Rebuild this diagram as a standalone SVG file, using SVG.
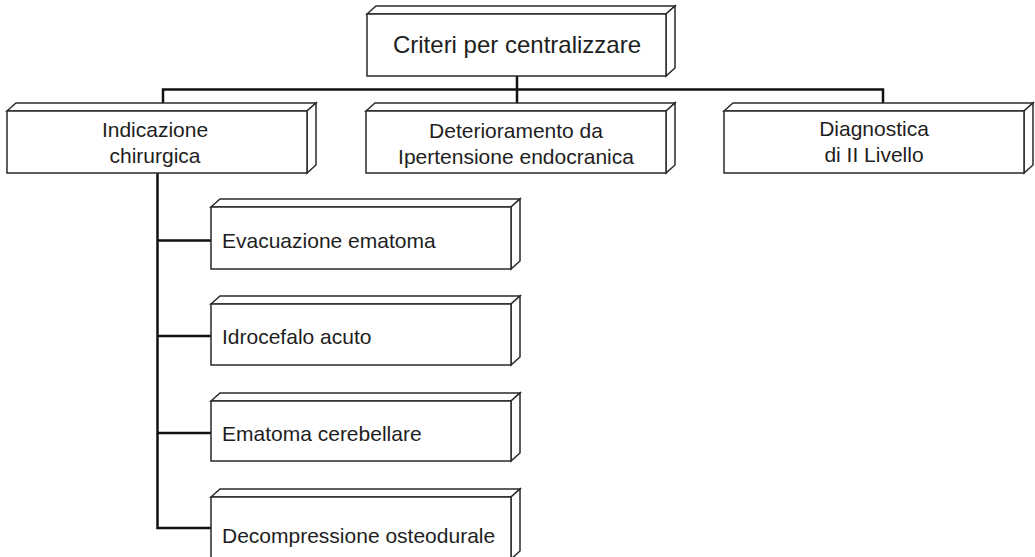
<svg xmlns="http://www.w3.org/2000/svg" width="1035" height="557" viewBox="0 0 1035 557">
<defs>
<style>
.box{fill:#ffffff;stroke:#2a2a2a;stroke-width:1.5;stroke-linejoin:miter}
.t{font-family:"Liberation Sans","Open Sans",Arial,sans-serif;font-size:21px;fill:#1e1e1e}
.c{text-anchor:middle}
.conn{fill:none;stroke:#111111;stroke-width:2.5;stroke-linecap:butt;stroke-linejoin:miter}
</style>
</defs>
<rect width="1035" height="557" fill="#ffffff"/>
<g id="connectors">
<path class="conn" d="M517 76 V111"/>
<path class="conn" d="M163 108 V89.5 H883 V108"/>
<path class="conn" d="M157.5 173 V528 H211"/>
<path class="conn" d="M157.5 240.5 H211"/>
<path class="conn" d="M157.5 336 H211"/>
<path class="conn" d="M157.5 433 H211"/>
</g>
<g id="node-root">
<polygon class="box" points="367,14 376,6 675,6 666,14"/>
<polygon class="box" points="666,14 675,6 675,68 666,76"/>
<rect class="box" x="367" y="14" width="299" height="62"/>
<text class="t c" x="517" y="53" style="font-size:24px">Criteri per centralizzare</text>
</g>
<g id="node-indicazione">
<polygon class="box" points="7,111 16,103 316,103 307,111"/>
<polygon class="box" points="307,111 316,103 316,165 307,173"/>
<rect class="box" x="7" y="111" width="300" height="62"/>
<text class="t c" x="155" y="137">Indicazione</text>
<text class="t c" x="155" y="163">chirurgica</text>
</g>
<g id="node-deterioramento">
<polygon class="box" points="366,111 375,103 675,103 666,111"/>
<polygon class="box" points="666,111 675,103 675,165 666,173"/>
<rect class="box" x="366" y="111" width="300" height="62"/>
<text class="t c" x="516" y="138">Deterioramento da</text>
<text class="t c" x="516" y="164">Ipertensione endocranica</text>
</g>
<g id="node-diagnostica">
<polygon class="box" points="724,111 733,103 1033,103 1024,111"/>
<polygon class="box" points="1024,111 1033,103 1033,165 1024,173"/>
<rect class="box" x="724" y="111" width="300" height="62"/>
<text class="t c" x="874" y="136">Diagnostica</text>
<text class="t c" x="874" y="162">di II Livello</text>
</g>
<g id="node-evacuazione">
<polygon class="box" points="211,207 220,199 520,199 511,207"/>
<polygon class="box" points="511,207 520,199 520,261 511,269"/>
<rect class="box" x="211" y="207" width="300" height="62"/>
<text class="t" x="222" y="248">Evacuazione ematoma</text>
</g>
<g id="node-idrocefalo">
<polygon class="box" points="211,304 220,296 520,296 511,304"/>
<polygon class="box" points="511,304 520,296 520,357 511,365"/>
<rect class="box" x="211" y="304" width="300" height="61"/>
<text class="t" x="222" y="344">Idrocefalo acuto</text>
</g>
<g id="node-ematoma">
<polygon class="box" points="211,401 220,393 520,393 511,401"/>
<polygon class="box" points="511,401 520,393 520,453 511,461"/>
<rect class="box" x="211" y="401" width="300" height="60"/>
<text class="t" x="222" y="441">Ematoma cerebellare</text>
</g>
<g id="node-decompressione">
<polygon class="box" points="211,497 220,489 520,489 511,497"/>
<polygon class="box" points="511,497 520,489 520,551 511,559"/>
<rect class="box" x="211" y="497" width="300" height="62"/>
<text class="t" x="222" y="543">Decompressione osteodurale</text>
</g>
</svg>
